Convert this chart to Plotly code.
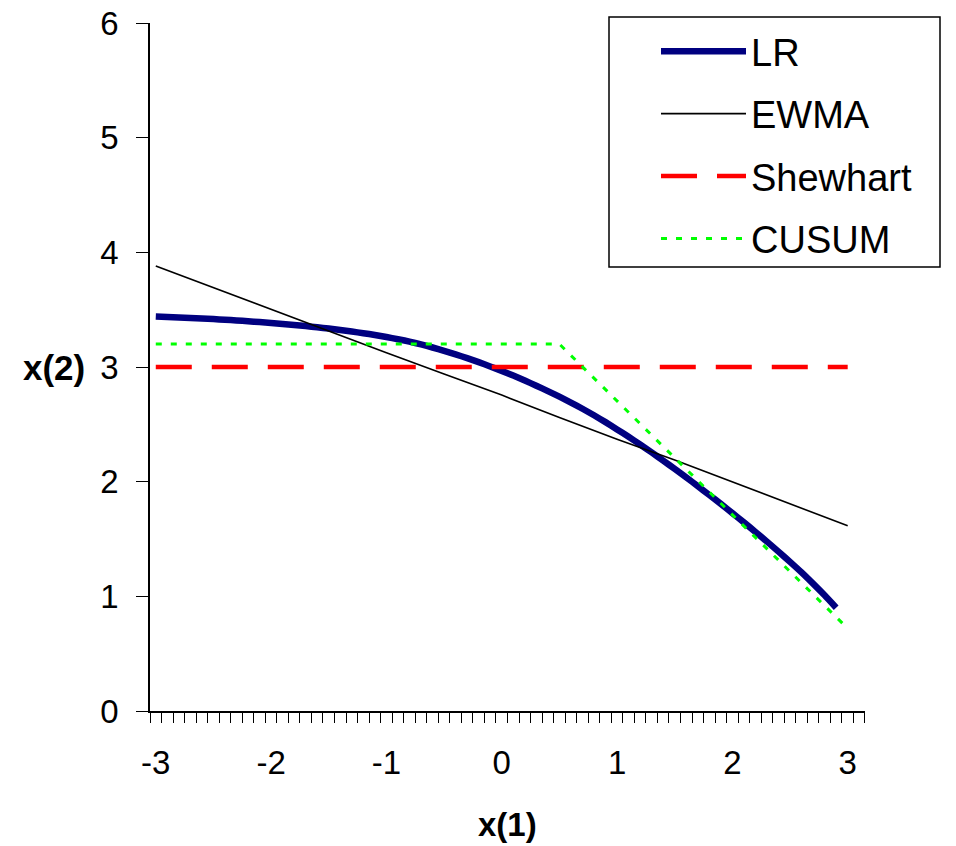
import plotly.graph_objects as go

# ---- data ----
lr_x = [round(-3.0 + 0.1 * i, 1) for i in range(60)]  # -3.0 .. 2.9
lr_y = [3.440, 3.436, 3.432, 3.428, 3.423, 3.418, 3.412, 3.406, 3.399, 3.392,
        3.384, 3.375, 3.366, 3.357, 3.346, 3.335, 3.323, 3.309, 3.295, 3.279,
        3.261, 3.242, 3.221, 3.197, 3.170, 3.141, 3.110, 3.077, 3.042, 3.005,
        2.966, 2.925, 2.882, 2.837, 2.790, 2.741, 2.690, 2.636, 2.579, 2.519,
        2.456, 2.391, 2.324, 2.255, 2.184, 2.111, 2.037, 1.961, 1.884, 1.806,
        1.726, 1.645, 1.562, 1.477, 1.390, 1.301, 1.209, 1.111, 1.009, 0.901]

ewma_x = [-3.0, -2.5, -2.0, -1.5, -1.0, -0.5, 0.0, 0.5, 1.0, 1.5, 2.0, 2.5, 3.0]
ewma_y = [3.88, 3.69, 3.50, 3.31, 3.125, 2.94, 2.755, 2.56, 2.37, 2.19, 2.00, 1.81, 1.615]

shew_x = [-3.0, 3.0]
shew_y = [3.0, 3.0]

cusum_x = [-3.0, 0.5, 3.0]
cusum_y = [3.2, 3.2, 0.72]

x_tick_vals = [-3, -2, -1, 0, 1, 2, 3]
x_tick_text = ["-3", "-2", "-1", "0", "1", "2", "3"]
y_tick_vals = [0, 1, 2, 3, 4, 5, 6]

FONT = "Arial, Liberation Sans, sans-serif"

W, H = 956, 846
# plot area in window pixels
PX_L, PX_R, PX_T, PX_B = 150, 865, 23, 711
PW, PH = PX_R - PX_L, PX_B - PX_T


def px_x(p):
    return (p - PX_L) / PW


def px_y(p):
    return (PX_B - p) / PH


fig = go.Figure()
fig.add_trace(go.Scatter(x=lr_x, y=lr_y, mode="lines", name="LR",
                         line=dict(color="#000080", width=6.5, shape="spline", smoothing=0.6),
                         legendgroup="a"))
fig.add_trace(go.Scatter(x=ewma_x, y=ewma_y, mode="lines", name="EWMA",
                         line=dict(color="black", width=1.6),
                         legendgroup="b"))
fig.add_trace(go.Scatter(x=shew_x, y=shew_y, mode="lines", name="Shewhart",
                         line=dict(color="#FF0000", width=4.5, dash="36px,20px"),
                         legendgroup="c"))
fig.add_trace(go.Scatter(x=cusum_x, y=cusum_y, mode="lines", name="CUSUM",
                         line=dict(color="#00FF00", width=3, dash="6px,9px"),
                         legendgroup="d"))

fig.update_layout(
    width=W, height=H,
    margin=dict(l=PX_L, r=W - PX_R, t=PX_T, b=H - PX_B, autoexpand=False),
    plot_bgcolor="white", paper_bgcolor="white",
    font=dict(family=FONT, color="black", size=33),
    xaxis=dict(
        range=[-3.0501, 3.1501],
        tickmode="array", tickvals=x_tick_vals, ticktext=x_tick_text,
        ticks="", showgrid=False, zeroline=False,
        showline=True, linecolor="black", linewidth=1.5,
        tickfont=dict(size=33, family=FONT),
        ticklabelstandoff=22, ticklabeloverflow="allow",
        minor=dict(tickmode="linear", tick0=-3.05, dtick=0.1, ticks="outside",
                   ticklen=10, tickwidth=1, tickcolor="black", showgrid=False),
    ),
    yaxis=dict(
        range=[0, 6], tickmode="array", tickvals=y_tick_vals,
        ticks="outside", ticklen=12, tickwidth=1, tickcolor="black",
        showgrid=False, zeroline=False,
        showline=True, linecolor="black", linewidth=1.5,
        tickfont=dict(size=33, family=FONT),
        ticklabelstandoff=11, ticklabeloverflow="allow",
    ),
    legend=dict(
        x=px_x(656), xanchor="left",
        y=px_y(20), yanchor="top",
        bgcolor="rgba(0,0,0,0)", borderwidth=0,
        font=dict(size=38, family=FONT),
        itemwidth=85, tracegroupgap=10, traceorder="grouped",
    ),
    shapes=[
        dict(type="rect", xref="paper", yref="paper", layer="below",
             x0=px_x(609), x1=px_x(940), y0=px_y(267), y1=px_y(17),
             line=dict(color="black", width=1.5), fillcolor="white"),
    ],
    annotations=[
        dict(text="<b>x(1)</b>", xref="paper", yref="paper", x=0.5, y=px_y(824),
             xanchor="center", yanchor="middle", showarrow=False,
             font=dict(size=33, family=FONT)),
        dict(text="<b>x(2)</b>", xref="paper", yref="paper", x=px_x(87), y=0.5,
             xanchor="right", yanchor="middle", showarrow=False,
             font=dict(size=35, family=FONT)),
    ],
)

fig.write_html("out.html", config={"displayModeBar": False},
               post_script="document.body.style.margin='0';document.body.style.padding='0';")
